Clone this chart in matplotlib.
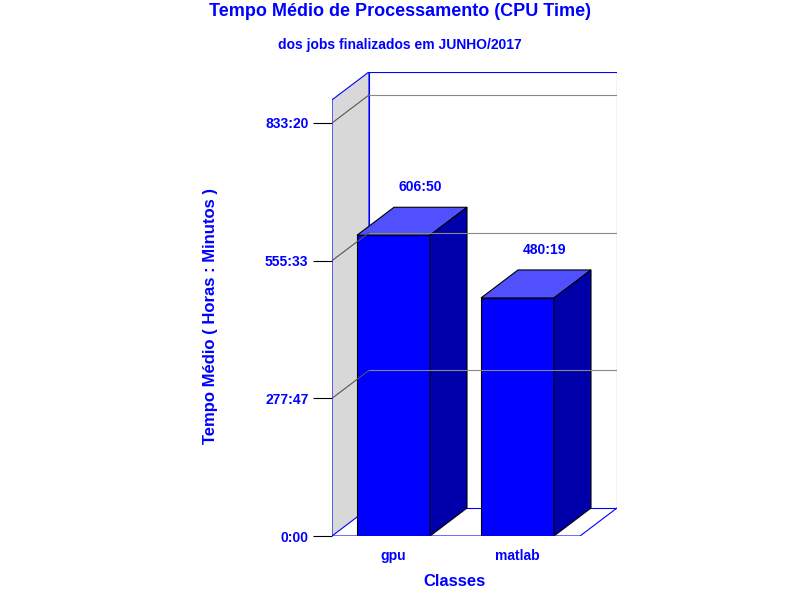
import matplotlib
matplotlib.use('Agg')
import matplotlib.pyplot as plt
from matplotlib.patches import Polygon

plt.rcParams['font.family'] = 'Liberation Sans'
plt.rcParams['font.weight'] = 'bold'

categories = ['gpu', 'matlab']
values = [606 + 50 / 60, 480 + 19 / 60]
value_labels = ['606:50', '480:19']
tick_values = [0, 277 + 47 / 60, 555 + 33 / 60, 833 + 20 / 60]
tick_labels = ['0:00', '277:47', '555:33', '833:20']

BLUE = '#0000FF'
PX_PER_H = 413 / 833.333
DX = 37
DY = 28 / PX_PER_H
YTOP = 880

fig = plt.figure(figsize=(8, 6), dpi=100)
# axes in pixel terms: x 332..617, y 72..536
ax = fig.add_axes([332 / 800, 64 / 600, 285 / 800, 464 / 600])
ax.set_xlim(0, 285)
ax.set_ylim(0, 464 / PX_PER_H)
for s in ax.spines.values():
    s.set_visible(False)
ax.set_xticks([])
ax.set_yticks(tick_values)
ax.set_yticklabels(tick_labels, color=BLUE, fontsize=10, fontweight='bold')
ax.tick_params(axis='y', length=14, color='black', pad=3)

# left wall
ax.add_patch(Polygon([(0, 0), (DX, DY), (DX, YTOP + DY), (0, YTOP)],
                     facecolor='#D8D8D8', edgecolor=BLUE, lw=0.8))
# back wall
ax.add_patch(Polygon([(DX, DY), (285, DY), (285, YTOP + DY), (DX, YTOP + DY)],
                     facecolor='white', edgecolor=BLUE, lw=0.8))
for t in tick_values[1:]:
    ax.plot([DX, 285], [t + DY] * 2, color='#888888', lw=0.8)
    ax.plot([0, DX], [t, t + DY], color='#555555', lw=0.8)
# floor
ax.plot([0, 248, 285], [0, 0, DY], color=BLUE, lw=0.8)

bar_x = [25, 149]
bar_w = 73
for x0, v, lab, cat in zip(bar_x, values, value_labels, categories):
    x1 = x0 + bar_w
    ax.add_patch(Polygon([(x0, 0), (x1, 0), (x1, v), (x0, v)],
                         facecolor=BLUE, edgecolor='black', lw=0.8))
    ax.add_patch(Polygon([(x0, v), (x1, v), (x1 + DX, v + DY), (x0 + DX, v + DY)],
                         facecolor='#5050FF', edgecolor='black', lw=0.8))
    ax.add_patch(Polygon([(x1, 0), (x1 + DX, DY), (x1 + DX, v + DY), (x1, v)],
                         facecolor='#0000AA', edgecolor='black', lw=0.8))
    ax.text(x0 + bar_w / 2 + 27, v + DY + 20 / PX_PER_H, lab, color=BLUE,
            fontsize=10, fontweight='bold', ha='center', va='center')
    ax.text(x0 + bar_w / 2, -20 / PX_PER_H, cat, color=BLUE,
            fontsize=10, fontweight='bold', ha='center', va='center')

fig.text(0.5, 1 - 12 / 600, 'Tempo Médio de Processamento (CPU Time)', color=BLUE,
         fontsize=13, fontweight='bold', ha='center', va='center')
fig.text(0.5, 1 - 45 / 600, 'dos jobs finalizados em JUNHO/2017', color=BLUE,
         fontsize=10, fontweight='bold', ha='center', va='center')
fig.text(455 / 800, 1 - 582 / 600, 'Classes', color=BLUE,
         fontsize=12, fontweight='bold', ha='center', va='center')
fig.text(210 / 800, 1 - 316 / 600, 'Tempo Médio ( Horas : Minutos )', color=BLUE,
         fontsize=12, fontweight='bold', ha='center', va='center', rotation=90)

fig.savefig('out.png', dpi=100)
